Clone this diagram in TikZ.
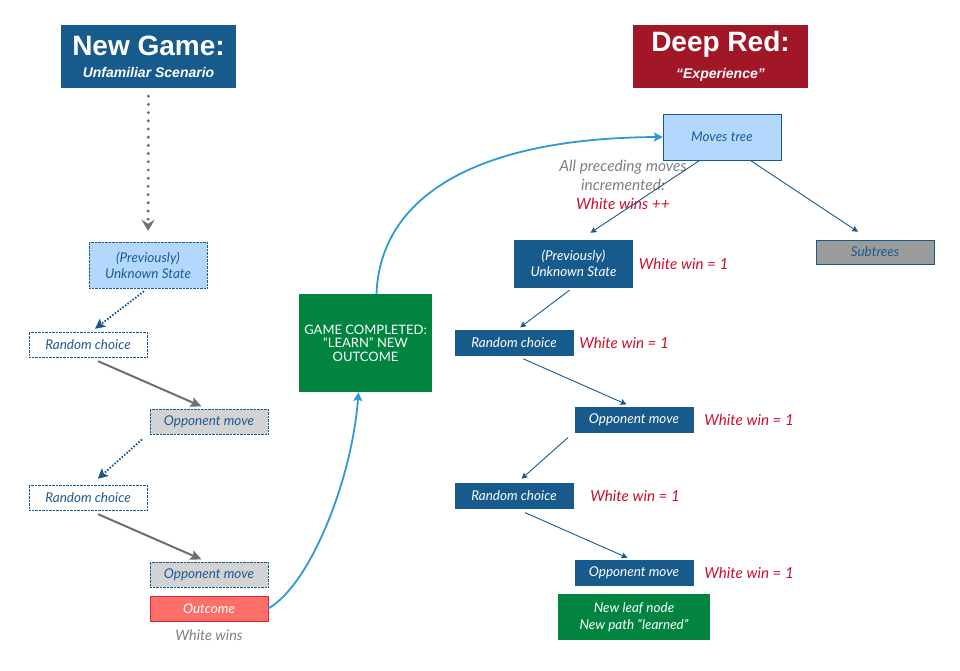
\documentclass[tikz,border=0pt]{standalone}
\usepackage{fontspec}
\setmainfont{Lato}
\newfontfamily\headfont{Liberation Sans}
\usepackage{tikz}
\usetikzlibrary{arrows.meta,positioning}
\usepackage{xcolor}
\definecolor{navy}{HTML}{175A8C}
\definecolor{deepred}{HTML}{A11727}
\definecolor{paleblue}{HTML}{B4D8FD}
\definecolor{textblue}{HTML}{1F5A93}
\definecolor{lightgray}{HTML}{D3D3D3}
\definecolor{subgray}{HTML}{9A9B9B}
\definecolor{leafgreen}{HTML}{00843F}
\definecolor{outred}{HTML}{FF6F6A}
\definecolor{outborder}{HTML}{D32A3A}
\definecolor{winred}{HTML}{C9112D}
\definecolor{notegray}{HTML}{808080}
\definecolor{arrowgray}{HTML}{6F6F6F}
\definecolor{curveblue}{HTML}{2D9AD6}

\begin{document}
\begin{tikzpicture}[
    x=1pt, y=-1pt,
    heading/.style={rectangle, minimum width=175pt, minimum height=63pt, inner sep=0pt, text=white, align=center, font=\headfont\bfseries},
    unknown/.style={rectangle, draw=navy, densely dotted, fill=paleblue, minimum width=118pt, minimum height=46pt, inner sep=0pt, align=center, text=textblue, font=\fontsize{13.5}{16}\selectfont\itshape},
    choice/.style={rectangle, draw=navy, densely dotted, fill=white, minimum width=118pt, minimum height=25pt, inner sep=0pt, text=textblue, font=\fontsize{13.5}{16}\selectfont\itshape},
    opponent/.style={choice, fill=lightgray},
    known/.style={rectangle, draw=navy, fill=navy, minimum width=118pt, minimum height=25pt, inner sep=0pt, align=center, text=white, font=\fontsize{13.5}{16}\selectfont\itshape},
    treebox/.style={rectangle, draw=navy, fill=paleblue, minimum width=118pt, minimum height=46pt, inner sep=0pt, text=textblue, font=\fontsize{13.5}{16}\selectfont\itshape},
    wins/.style={text=winred, font=\fontsize{15.2}{18}\selectfont\itshape, inner sep=0pt},
    note/.style={text=notegray, align=center, font=\fontsize{15.5}{19}\selectfont\itshape},
    greenbox/.style={rectangle, fill=leafgreen, inner sep=0pt, text=white, align=center},
    dotline/.style={arrowgray, line width=3.3pt, line cap=round, dash pattern=on 0pt off 8.2pt, -{Stealth[length=11pt,width=13pt,inset=4pt]}},
    dotarrow/.style={navy, line width=1.8pt, dash pattern=on 1.6pt off 1.6pt, -{Stealth[length=10pt,width=10pt,inset=2pt]}},
    grayarrow/.style={arrowgray, line width=2pt, -{Stealth[length=11pt,width=10pt,inset=2pt]}},
    arrow/.style={navy, line width=0.9pt, -{Stealth[length=6pt,width=6pt,inset=1pt]}},
    curve/.style={curveblue, line width=1.8pt, -{Stealth[length=9pt,width=9pt,inset=2pt]}}
]
\useasboundingbox (0,0) rectangle (960,671);

% left: new game
\node (newgame) [heading, fill=navy] at (148.5,56.5) {{\fontsize{28}{30}\selectfont New Game:}\\[10pt]{\fontsize{14}{16}\selectfont\itshape Unfamiliar Scenario}};
\node (prevL) [unknown] at (148,265) {(Previously)\\Unknown State};
\node (rcL1) [choice] at (88,344.5) {Random choice};
\node (opL1) [opponent] at (209,421.5) {Opponent move};
\node (rcL2) [choice] at (88,497.5) {Random choice};
\node (opL2) [opponent] at (209,574.5) {Opponent move};
\node (outcome) [rectangle, draw=outborder, fill=outred, minimum width=118pt, minimum height=25pt, inner sep=0pt, text=white, font=\fontsize{13.5}{16}\selectfont\itshape] at (209,608.5) {Outcome};
\node (whitewins) [note, font=\fontsize{14.5}{16}\selectfont\itshape, below=5pt of outcome] {White wins};

% middle
\node (game) [greenbox, minimum width=133pt, minimum height=98pt, font=\fontsize{13}{13.5}\selectfont] at (365.5,343) {GAME COMPLETED:\\“LEARN” NEW\\OUTCOME};

% right: deep red
\node (deepred) [heading, fill=deepred] at (720.5,56.5) {{\fontsize{28}{30}\selectfont Deep Red:}\\[10pt]{\fontsize{14}{16}\selectfont\itshape “Experience”}};
\node (moves) [treebox] at (722,137) {Moves tree};
\node (incr) [note] at (623,185) {All preceding moves\\incremented:\\\textcolor{winred}{White wins ++}};
\node (subtrees) [rectangle, draw=navy, fill=subgray, minimum width=118pt, minimum height=24pt, inner sep=0pt, text=textblue, font=\fontsize{13.5}{16}\selectfont\itshape] at (875,252) {Subtrees};
\node (prevR) [known, minimum height=47pt] at (573.5,263.5) {(Previously)\\Unknown State};
\node (rcR1) [known] at (514,342.5) {Random choice};
\node (opR1) [known] at (634,419.5) {Opponent move};
\node (rcR2) [known] at (514,495.5) {Random choice};
\node (opR2) [known] at (634,572.5) {Opponent move};
\node (leaf) [greenbox, minimum width=152pt, minimum height=46pt, font=\fontsize{13.5}{17}\selectfont\itshape] at (634,617) {New leaf node\\New path “learned”};

% win counters
\node (w1) [wins, right=6pt of prevR] {White win = 1};
\node (w2) [wins, right=6pt of rcR1] {White win = 1};
\node (w3) [wins, right=11pt of opR1] {White win = 1};
\node (w4) [wins, right=17pt of rcR2] {White win = 1};
\node (w5) [wins, right=11pt of opR2] {White win = 1};

% left arrows
\draw [dotline, shorten <=8pt, shorten >=11pt] (newgame) -- (prevL);
\draw [dotarrow, shorten <=5pt, shorten >=5pt] (prevL.south) -- ([xshift=3pt]rcL1.north);
\draw [grayarrow, shorten <=10pt, shorten >=6pt] ([xshift=1pt]rcL1.south) -- ([xshift=-2pt]opL1.north);
\draw [dotarrow, shorten <=8pt, shorten >=9pt] ([xshift=-61pt]opL1.south) -- ([xshift=3pt]rcL2.north);
\draw [grayarrow, shorten <=10pt, shorten >=6pt] ([xshift=1pt]rcL2.south) -- ([xshift=-2pt]opL2.north);

% learning curves
\draw [curve] (outcome.east) .. controls (310,585) and (352,480) .. ([xshift=-7pt]game.south);
\draw [curve] ([xshift=11pt]game.north) .. controls (380,200) and (470,138) .. (moves.west);

% right arrows
\draw [arrow] ([xshift=-22pt]moves.south) -- ([xshift=17pt,yshift=7pt]prevR.north);
\draw [arrow] ([xshift=28pt]moves.south) -- ([xshift=-17pt,yshift=8pt]subtrees.north);
\draw [arrow, shorten <=5pt, shorten >=4pt] (prevR.south) -- ([xshift=3pt]rcR1.north);
\draw [arrow, shorten <=9pt, shorten >=6pt] ([xshift=1pt]rcR1.south) -- ([xshift=-2pt]opR1.north);
\draw [arrow, shorten <=8pt, shorten >=6pt] ([xshift=-60pt]opR1.south) -- ([xshift=3pt]rcR2.north);
\draw [arrow, shorten <=11pt, shorten >=5pt] ([xshift=1pt]rcR2.south) -- ([xshift=-2pt]opR2.north);

\end{tikzpicture}
\end{document}
